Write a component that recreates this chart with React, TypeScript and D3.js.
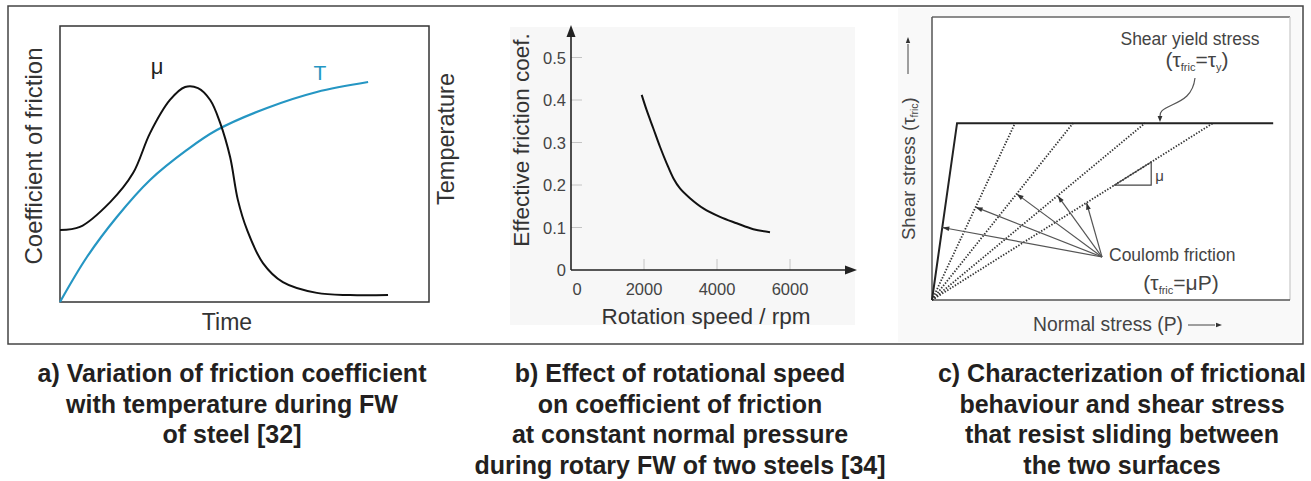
import React from "react";
import * as d3 from "d3";

// ---------- Panel a: qualitative curves (time %, value %) ----------
const muTime = [0, 5.4, 13.6, 19.8, 24.4, 29.8, 33.9, 37.4, 40.7, 43.4, 46.1, 48.2, 50.7, 55.0, 60.4, 69.6, 78.6, 88.9];
const muValue = [26.1, 27.2, 36.2, 46.7, 61.2, 73.2, 77.9, 77.5, 73.2, 64.9, 52.5, 37.0, 26.1, 14.1, 7.2, 3.3, 2.5, 2.5];
const tempTime = [0, 7.3, 15.4, 24.4, 34.4, 42.5, 56.1, 69.6, 83.5];
const tempValue = [0, 16.3, 30.8, 44.2, 55.1, 62.3, 70.3, 76.1, 79.7];

// ---------- Panel b: effective friction coefficient vs rotation speed ----------
const rpm = [1937, 2073, 2256, 2438, 2621, 2804, 2986, 3260, 3625, 4082, 4539, 4995, 5452];
const frictionCoef = [0.412, 0.376, 0.333, 0.29, 0.251, 0.216, 0.192, 0.169, 0.145, 0.125, 0.11, 0.096, 0.089];
const yTicksB = [0, 0.1, 0.2, 0.3, 0.4, 0.5];
const xTicksB = [0, 2000, 4000, 6000];

// ---------- Panel c: Coulomb friction lines meeting the shear yield stress ----------
const yieldStress = 62.5; // % of plot height
const yieldEndP = [7, 23.2, 39.4, 59.5, 78.5]; // P where each line meets yield stress
const yieldLineEndP = 95.3;
const arrowTipFrac = [0.41, 0.525, 0.6, 0.59, 0.55];

const captionA = ["a) Variation of friction coefficient", "with temperature during FW", "of steel [32]"];
const captionB = ["b) Effect of rotational speed", "on coefficient of friction", "at constant normal pressure", "during rotary FW of two steels [34]"];
const captionC = ["c) Characterization of frictional", "behaviour and shear stress", "that resist sliding between", "the two surfaces"];

const FONT = "'Liberation Sans', Arial, Helvetica, sans-serif";
const BLUE = "#2596c3";

function arrowHead(x1: number, y1: number, x2: number, y2: number, len = 7, half = 2.6, fill = "#333") {
  const a = Math.atan2(y2 - y1, x2 - x1);
  const bx = x2 - len * Math.cos(a);
  const by = y2 - len * Math.sin(a);
  const px = -Math.sin(a) * half;
  const py = Math.cos(a) * half;
  return <path d={`M${x2},${y2}L${bx + px},${by + py}L${bx - px},${by - py}Z`} fill={fill} />;
}

function PanelA() {
  const x = d3.scaleLinear().domain([0, 100]).range([60, 429]);
  const y = d3.scaleLinear().domain([0, 100]).range([302, 26]);
  const line = d3
    .line<[number, number]>()
    .x((d) => x(d[0]))
    .y((d) => y(d[1]))
    .curve(d3.curveCatmullRom.alpha(0.5));
  const mu = muTime.map((t, i) => [t, muValue[i]] as [number, number]);
  const temp = tempTime.map((t, i) => [t, tempValue[i]] as [number, number]);
  return (
    <g fontFamily={FONT}>
      <rect x={60} y={26} width={369} height={276} fill="#fff" stroke="#333" strokeWidth={1.5} />
      <path d={line(temp) || ""} fill="none" stroke={BLUE} strokeWidth={2.2} />
      <path d={line(mu) || ""} fill="none" stroke="#111" strokeWidth={2} />
      <text x={157} y={74} fontSize={22} fill="#222" textAnchor="middle">μ</text>
      <text x={320} y={80} fontSize={21} fill={BLUE} textAnchor="middle">T</text>
      <text transform="translate(42,156) rotate(-90)" fontSize={24} fill="#333" textAnchor="middle">Coefficient of friction</text>
      <text transform="translate(454,139) rotate(-90)" fontSize={23.5} fill="#333" textAnchor="middle">Temperature</text>
      <text x={227} y={330} fontSize={23} fill="#333" textAnchor="middle">Time</text>
    </g>
  );
}

function PanelB() {
  const x = d3.scaleLinear().domain([0, 6000]).range([571, 790]);
  const y = d3.scaleLinear().domain([0, 0.5]).range([270, 57.5]);
  const line = d3
    .line<number>()
    .x((_, i) => x(rpm[i]))
    .y((d) => y(d))
    .curve(d3.curveCatmullRom.alpha(0.5));
  const x0 = x(0);
  const y0 = y(0);
  return (
    <g fontFamily={FONT}>
      <rect x={510} y={27} width={345} height={298} fill="#f7f7f7" />
      {yTicksB.slice(1).map((t) => (
        <line key={t} x1={x0} x2={x0 + 11} y1={y(t)} y2={y(t)} stroke="#c4c4c4" strokeWidth={1} />
      ))}
      {xTicksB.slice(1).map((t) => (
        <line key={t} x1={x(t)} x2={x(t)} y1={y0} y2={y0 - 11} stroke="#c4c4c4" strokeWidth={1} />
      ))}
      <line x1={x0} x2={x0} y1={y0} y2={32} stroke="#222" strokeWidth={1.6} />
      {arrowHead(x0, 60, x0, 25, 12, 4.5, "#222")}
      <line x1={x0} x2={850} y1={y0} y2={y0} stroke="#222" strokeWidth={1.6} />
      {arrowHead(800, y0, 857, y0, 12, 4.5, "#222")}
      {yTicksB.map((t) => (
        <text key={t} x={566} y={y(t) + 6} fontSize={16.5} fill="#444" textAnchor="end">
          {t === 0 ? "0" : t.toFixed(1)}
        </text>
      ))}
      {xTicksB.map((t) => (
        <text key={t} x={t === 0 ? x(t) + 6 : x(t)} y={295} fontSize={16.5} fill="#444" textAnchor="middle">
          {t}
        </text>
      ))}
      <path d={line(frictionCoef) || ""} fill="none" stroke="#111" strokeWidth={2} />
      <text transform="translate(529,140) rotate(-90)" fontSize={22.5} fill="#333" textAnchor="middle">Effective friction coef.</text>
      <text x={706} y={324} fontSize={22.5} fill="#333" textAnchor="middle">Rotation speed / rpm</text>
    </g>
  );
}

function PanelC() {
  const x = d3.scaleLinear().domain([0, 100]).range([932, 1290]);
  const y = d3.scaleLinear().domain([0, 100]).range([300, 17]);
  const ox = x(0);
  const oy = y(0);
  const yy = y(yieldStress);
  const lines = yieldEndP.map((p) => ({ x2: x(p), y2: yy }));
  const src = { x: 1102, y: 257 };
  const tips = lines.map((l, i) => ({
    x: ox + (l.x2 - ox) * arrowTipFrac[i],
    y: oy + (l.y2 - oy) * arrowTipFrac[i],
  }));
  const l4 = lines[4];
  const triA = { x: ox + (l4.x2 - ox) * 0.65, y: oy + (l4.y2 - oy) * 0.65 };
  const triB = { x: ox + (l4.x2 - ox) * 0.78, y: oy + (l4.y2 - oy) * 0.78 };
  return (
    <g fontFamily={FONT}>
      <rect x={898} y={8} width={403} height={334} fill="#f9f9f9" />
      <rect x={932} y={17} width={358} height={283} fill="#fff" />
      <line x1={932} x2={1290} y1={17} y2={17} stroke="#666" strokeWidth={1.3} />
      <line x1={1290} x2={1290} y1={17} y2={300} stroke="#ccc" strokeWidth={1.3} />
      <line x1={932} x2={932} y1={17} y2={300} stroke="#555" strokeWidth={1.5} />
      <line x1={932} x2={1290} y1={300} y2={300} stroke="#555" strokeWidth={1.5} />
      {lines.slice(1).map((l, i) => (
        <line key={i} x1={ox} y1={oy} x2={l.x2} y2={l.y2} stroke="#333" strokeWidth={1.8} strokeDasharray="1.4 1.6" />
      ))}
      <path d={`M${ox},${oy}L${lines[0].x2},${yy}L${x(yieldLineEndP)},${yy}`} fill="none" stroke="#222" strokeWidth={2} />
      <path d={`M${triA.x},${triA.y}L${triB.x},${triB.y}L${triB.x},${triA.y}Z`} fill="none" stroke="#444" strokeWidth={1.2} />
      <text x={triB.x + 4} y={triA.y - 4} fontSize={15} fill="#444">μ</text>
      {tips.map((t, i) => (
        <g key={i}>
          <line x1={src.x} y1={src.y} x2={t.x} y2={t.y} stroke="#555" strokeWidth={1.2} />
          {arrowHead(src.x, src.y, t.x, t.y, 7, 2.4, "#333")}
        </g>
      ))}
      <path d="M1195,78 C1193,95 1183,100 1172,105 S1160,112 1160,116" fill="none" stroke="#555" strokeWidth={1.2} />
      {arrowHead(1160, 110, 1160, 122, 6, 2.4, "#333")}
      <text x={1190} y={45} fontSize={17.5} fill="#444" textAnchor="middle">Shear yield stress</text>
      <text x={1197} y={67} fontSize={21} fill="#444" textAnchor="middle">
        (τ<tspan fontSize={11} dy={4}>fric</tspan>
        <tspan dy={-4}>=τ</tspan>
        <tspan fontSize={11} dy={4}>y</tspan>
        <tspan dy={-4}>)</tspan>
      </text>
      <text x={1109} y={261} fontSize={17.5} fill="#444">Coulomb friction</text>
      <text x={1181} y={290} fontSize={21} fill="#444" textAnchor="middle">
        (τ<tspan fontSize={11} dy={4}>fric</tspan>
        <tspan dy={-4}>=μP)</tspan>
      </text>
      <text transform="translate(915,240) rotate(-90)" fontSize={18.5} fill="#444">
        Shear stress (τ<tspan fontSize={10.5} dy={3}>fric</tspan>
        <tspan dy={-3}>)</tspan>
      </text>
      <line x1={908} x2={908} y1={74} y2={44} stroke="#444" strokeWidth={1} />
      {arrowHead(908, 60, 908, 37, 6, 2.2, "#333")}
      <text x={1033} y={331} fontSize={19.3} fill="#444">Normal stress (P)</text>
      <line x1={1188} x2={1215} y1={325} y2={325} stroke="#444" strokeWidth={1} />
      {arrowHead(1190, 325, 1222, 325, 6, 2.2, "#333")}
    </g>
  );
}

function Caption({ lines, cx }: { lines: string[]; cx: number }) {
  const baselines = [382, 413, 443, 474];
  return (
    <g>
      {lines.map((l, i) => (
        <text key={i} x={cx} y={baselines[i]} fontSize={25} fontWeight="bold" fill="#231f20" textAnchor="middle" fontFamily={FONT}>
          {l}
        </text>
      ))}
    </g>
  );
}

export default function App() {
  return (
    <svg width={1311} height={481} style={{ position: "absolute", left: 0, top: 0, background: "#fff" }}>
      <rect x={0} y={0} width={1311} height={481} fill="#fff" />
      <PanelA />
      <PanelB />
      <PanelC />
      <rect x={8} y={6} width={1295} height={338} fill="none" stroke="#444" strokeWidth={1.5} />
      <Caption lines={captionA} cx={232} />
      <Caption lines={captionB} cx={680} />
      <Caption lines={captionC} cx={1122} />
    </svg>
  );
}
